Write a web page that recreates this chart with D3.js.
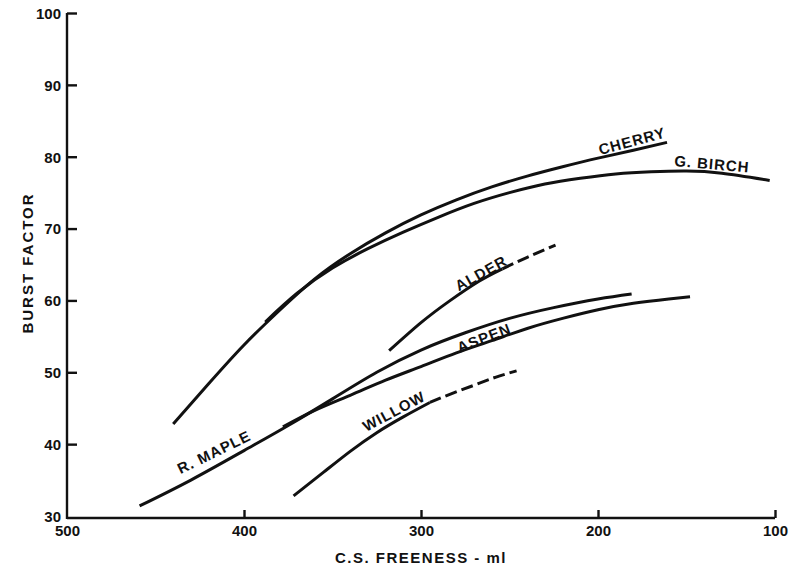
<!DOCTYPE html>
<html>
<head>
<meta charset="utf-8">
<script src="https://cdn.jsdelivr.net/npm/d3@7"></script>
<style>
  html, body { margin: 0; padding: 0; background: #fff; }
  svg { display: block; }
  .axis text { font-family: "Liberation Sans", Arial, sans-serif; font-weight: bold; font-size: 15px; fill: #111; }
  .axis path, .axis line { stroke: #111; stroke-width: 2.4px; }
  .lbl { font-family: "Liberation Sans", Arial, sans-serif; font-weight: bold; font-size: 15px; fill: #111; letter-spacing: 1px; }
</style>
</head>
<body>
<svg id="chart" width="798" height="574"></svg>
<script>
// ---------------- DATA ----------------
const xTicks = [500, 400, 300, 200, 100];
const yTicks = [30, 40, 50, 60, 70, 80, 90, 100];
const xTitle = "C.S. FREENESS - ml";
const yTitle = "BURST FACTOR";

// C.S. freeness (ml) and burst factor
const cherryX = [440, 420, 400, 380, 360, 340, 320, 300, 280, 260, 240, 220, 200, 180, 161];
const cherryY = [42.8, 48.4, 53.8, 58.6, 63.0, 66.5, 69.4, 71.9, 74.0, 75.8, 77.3, 78.6, 79.8, 80.9, 82.0];

const birchX = [388, 370, 350, 330, 310, 290, 270, 250, 230, 210, 190, 170, 150, 130, 103];
const birchY = [57.0, 61.0, 64.5, 67.2, 69.5, 71.6, 73.5, 75.0, 76.2, 77.0, 77.6, 77.9, 78.0, 77.7, 76.7];

const alderX = [318, 300, 284, 267, 254];
const alderY = [53.0, 56.9, 59.9, 62.7, 64.4];
const alderDashX = [254, 240, 224];
const alderDashY = [64.4, 66.0, 67.7];

const mapleX = [459, 430, 400, 375, 350, 325, 300, 275, 250, 225, 200, 181];
const mapleY = [31.4, 35.0, 39.1, 42.6, 46.3, 50.0, 53.1, 55.5, 57.5, 59.0, 60.2, 60.9];

const aspenX = [378, 360, 340, 320, 300, 280, 260, 240, 220, 200, 180, 160, 148];
const aspenY = [42.4, 44.7, 46.8, 48.9, 50.8, 52.7, 54.4, 56.1, 57.5, 58.7, 59.6, 60.2, 60.5];

const willowX = [372, 355, 340, 325, 310, 295];
const willowY = [32.8, 36.1, 39.0, 41.6, 43.8, 45.8];
const willowDashX = [295, 283, 270, 258, 246];
const willowDashY = [45.8, 47.0, 48.2, 49.3, 50.2];

const labelNames = ["CHERRY", "G. BIRCH", "ALDER", "ASPEN", "WILLOW", "R. MAPLE"];
// label anchor (data units) and rotation
const labelX = [180.8, 135.6, 266.1, 264.4, 315.3, 417];
const labelY = [82.2, 79.0, 63.8, 54.8, 44.6, 38.9];
const labelAngle = [-15, 5, -29, -21, -28, -26];

// ---------------- CHART ----------------
const svg = d3.select("#chart");
const x = d3.scaleLinear().domain([500, 100]).range([67, 775]);
const y = d3.scaleLinear().domain([30, 100]).range([516, 13]);

const line = d3.line().x(d => x(d[0])).y(d => y(d[1])).curve(d3.curveNatural);
const zip = (a, b) => a.map((v, i) => [v, b[i]]);

const series = [
  { xs: cherryX, ys: cherryY, dash: null },
  { xs: birchX, ys: birchY, dash: null },
  { xs: alderX, ys: alderY, dash: null },
  { xs: alderDashX, ys: alderDashY, dash: "12,5" },
  { xs: mapleX, ys: mapleY, dash: null },
  { xs: aspenX, ys: aspenY, dash: null },
  { xs: willowX, ys: willowY, dash: null },
  { xs: willowDashX, ys: willowDashY, dash: "12,5" }
];

svg.append("g").selectAll("path").data(series).join("path")
  .attr("d", s => line(zip(s.xs, s.ys)))
  .attr("fill", "none")
  .attr("stroke", "#111")
  .attr("stroke-width", 3)
  .attr("stroke-linecap", "butt")
  .attr("stroke-dasharray", s => s.dash);

// axes
const yAxis = svg.append("g").attr("class", "axis")
  .attr("transform", `translate(${x(500)},0)`)
  .call(d3.axisLeft(y).tickValues(yTicks).tickSizeInner(-10).tickSizeOuter(0).tickPadding(6).tickFormat(d3.format("d")));
yAxis.selectAll(".tick text").attr("dy", "0.36em");

const xAxis = svg.append("g").attr("class", "axis")
  .attr("transform", `translate(0,${y(30) + 2})`)
  .call(d3.axisBottom(x).tickValues(xTicks).tickSizeInner(-8).tickSizeOuter(0).tickPadding(10).tickFormat(d3.format("d")));
xAxis.select(".domain").attr("d", `M${x(500)},0H${x(100)}`);
yAxis.select(".domain").attr("d", `M0,${y(100)}V${y(30) + 3}`);
yAxis.selectAll(".tick").filter(d => d === 30).select("line").remove();
xAxis.selectAll(".tick").filter(d => d === 500).select("line").remove();
xAxis.selectAll(".tick text").attr("dy", "0.5em");

// axis titles
svg.append("text").attr("class", "lbl")
  .attr("x", 421).attr("y", 563)
  .attr("text-anchor", "middle")
  .style("letter-spacing", "1.5px")
  .text(xTitle);

svg.append("text").attr("class", "lbl")
  .attr("transform", "translate(33,263) rotate(-90)")
  .attr("text-anchor", "middle")
  .style("letter-spacing", "2px")
  .text(yTitle);

// curve labels
svg.append("g").selectAll("text").data(labelNames).join("text")
  .attr("class", "lbl")
  .attr("text-anchor", "middle")
  .attr("dy", "0.36em")
  .attr("transform", (d, i) => `translate(${x(labelX[i])},${y(labelY[i])}) rotate(${labelAngle[i]})`)
  .text(d => d);
</script>
</body>
</html>
